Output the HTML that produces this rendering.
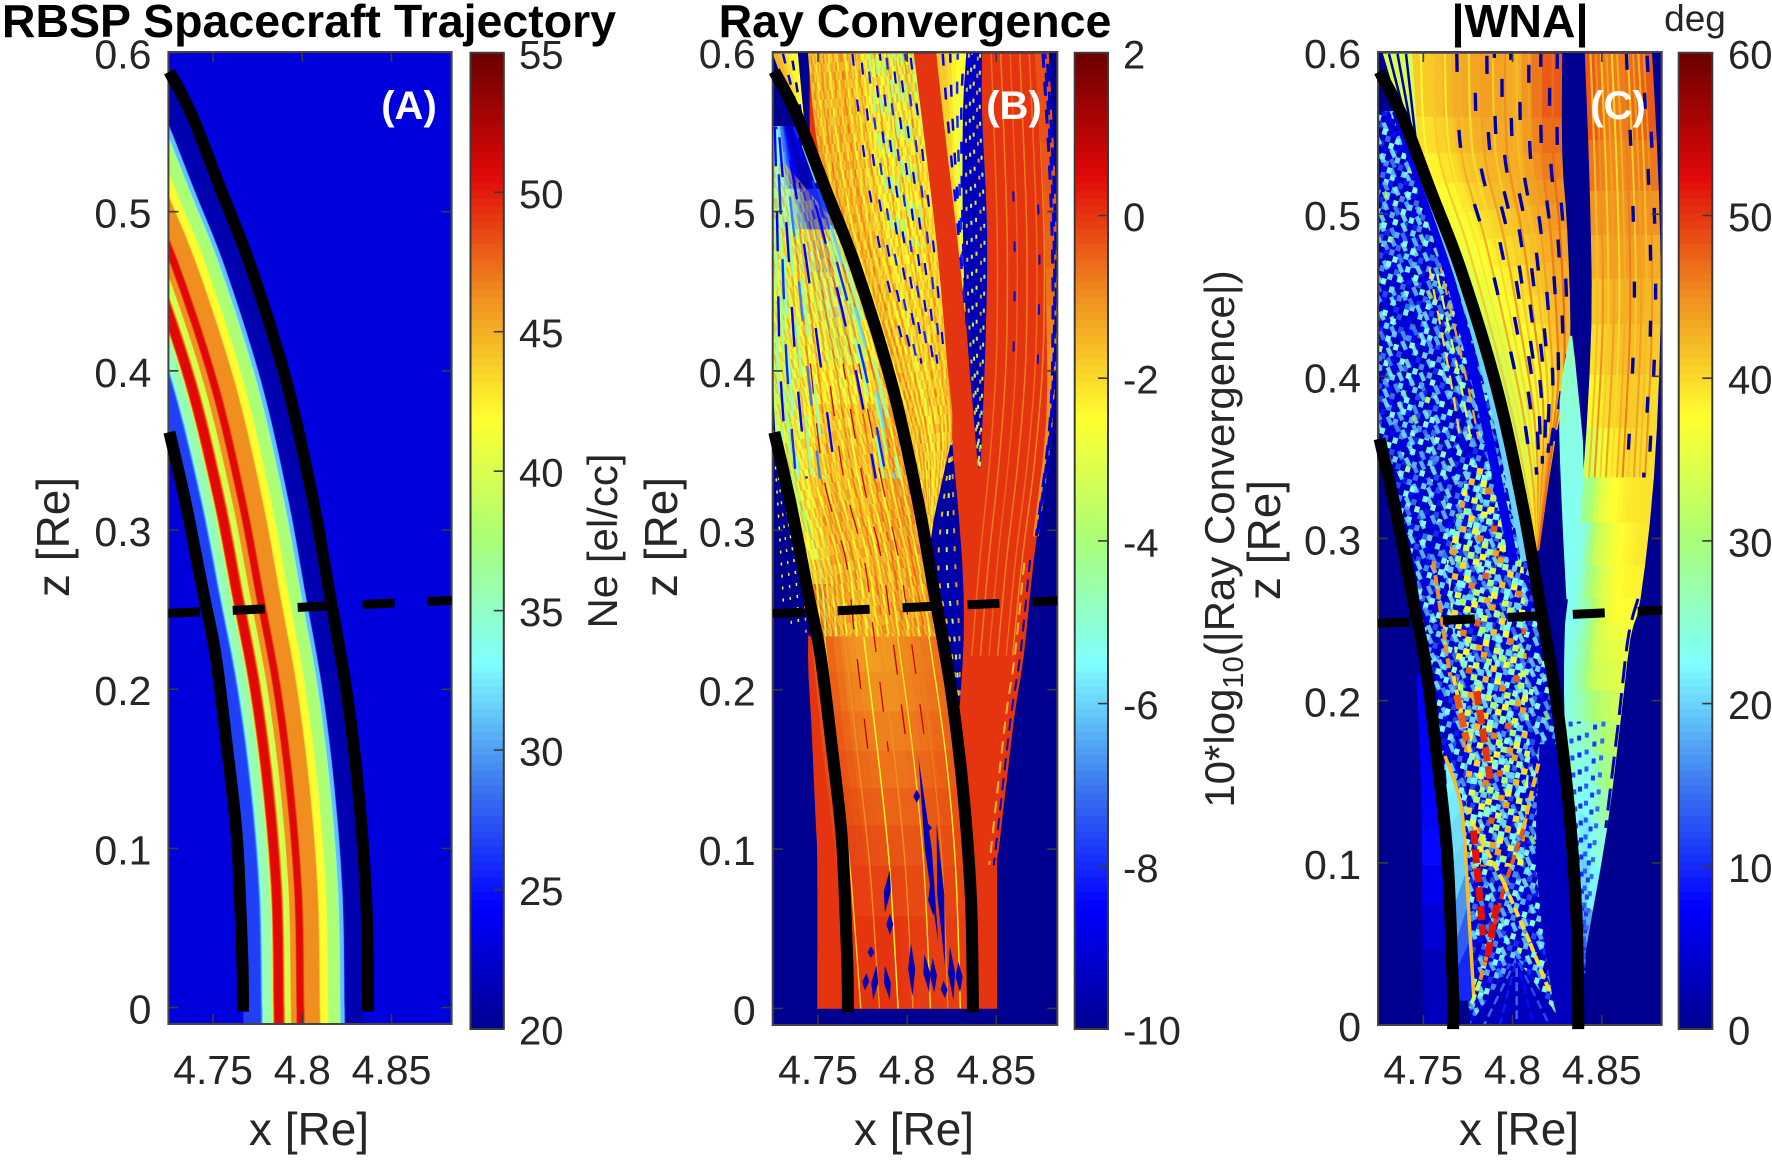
<!DOCTYPE html>
<html lang="en">
<head>
<meta charset="utf-8">
<title>RBSP Spacecraft Trajectory, Ray Convergence and WNA</title>
<style>
html,body{margin:0;padding:0;background:#fff;width:1772px;height:1161px;overflow:hidden}
svg{display:block;font-family:"Liberation Sans",Arial,sans-serif}
.title{font-size:46.5px;font-weight:bold;fill:#000;text-anchor:middle}
.axlabel{font-size:46px;fill:#262626;text-anchor:middle}
.cblabel{font-size:42px;fill:#262626;text-anchor:middle}
.tick{font-size:41px;fill:#262626}
.cbtick{font-size:40px;fill:#262626}
.tag{font-size:40px;font-weight:bold;fill:#fff;text-anchor:middle}
</style>
</head>
<body>
<svg id="figure" xmlns="http://www.w3.org/2000/svg" width="1772" height="1161" viewBox="0 0 1772 1161">
  <defs id="defs"></defs>
  <g id="panelA"></g>
  <g id="panelB"></g>
  <g id="panelC"></g>
  <text class="title" x="309" y="37">RBSP Spacecraft Trajectory</text>
  <text class="title" x="915" y="37">Ray Convergence</text>
  <text class="title" x="1520" y="37">|WNA|</text>
  <text x="1695" y="31" font-size="37" fill="#262626" text-anchor="middle">deg</text>
  <text class="axlabel" x="309" y="1145">x [Re]</text>
  <text class="axlabel" x="914" y="1145">x [Re]</text>
  <text class="axlabel" x="1519" y="1145">x [Re]</text>
  <text class="axlabel" transform="translate(69 537) rotate(-90)">z [Re]</text>
  <text class="axlabel" transform="translate(677 537) rotate(-90)">z [Re]</text>
  <text class="axlabel" transform="translate(1280 540) rotate(-90)">z [Re]</text>
  <text class="cblabel" transform="translate(617 541) rotate(-90)">Ne [el/cc]</text>
  <text class="cblabel" transform="translate(1234 539) rotate(-90)">10*log<tspan font-size="29" dy="9">10</tspan><tspan dy="-9">(|Ray Convergence|)</tspan></text>
  <text class="tag" x="409" y="119">(A)</text>
  <text class="tag" x="1014" y="119">(B)</text>
  <text class="tag" x="1618" y="119">(C)</text>
</svg>
<script>
/* ---------- axis ticks ---------- */
const xTickValues = [4.75, 4.8, 4.85];
const xTickLabels = ['4.75', '4.8', '4.85'];
const zTickValues = [0, 0.1, 0.2, 0.3, 0.4, 0.5, 0.6];
const zTickLabels = ['0', '0.1', '0.2', '0.3', '0.4', '0.5', '0.6'];
const cbarATicks = [20, 25, 30, 35, 40, 45, 50, 55];
const cbarBTicks = [-10, -8, -6, -4, -2, 0, 2];
const cbarCTicks = [0, 10, 20, 30, 40, 50, 60];

/* ---------- spacecraft trajectories and field lines ---------- */
const outerX = [4.7255, 4.738, 4.7547, 4.7713, 4.7912, 4.8057, 4.8156, 4.8244, 4.8312, 4.8357, 4.8368, 4.8368];
const outerZ = [0.588, 0.5608, 0.5127, 0.4647, 0.3926, 0.3204, 0.258, 0.2014, 0.1386, 0.0707, 0.01, -0.0025];
const innerX = [4.7255, 4.7348, 4.7447, 4.7513, 4.7578, 4.7634, 4.7662, 4.7667, 4.7667];
const innerZ = [0.3615, 0.3157, 0.2592, 0.2221, 0.1637, 0.1059, 0.0362, 0.01, -0.0025];
const crossX = [4.7246, 4.8842];
const crossZ = [0.2477, 0.2558];

/* ---------- panel A: density profile across L-shell ---------- */
const neX0 = [4.766, 4.7672, 4.7765, 4.7775, 4.7785, 4.783, 4.7838, 4.7845, 4.789, 4.79, 4.7908, 4.793, 4.7938, 4.7965, 4.7972, 4.8005, 4.8015, 4.8095, 4.8103, 4.814, 4.8148, 4.8208, 4.8215, 4.8235, 4.8242, 4.833, 4.8345];
const neValues = [23, 26.7, 26.7, 31.3, 35.4, 36, 46, 50.6, 50.6, 46, 40, 39, 46, 46.5, 50.6, 50.6, 46.3, 46.3, 42, 42, 38, 37.5, 31.3, 31, 21, 21.5, 23];
const fieldZ = [-0.011, 0, 0.0707, 0.1386, 0.2014, 0.258, 0.3204, 0.3926, 0.4647, 0.5127, 0.5608, 0.5873, 0.62];
const fieldShift = [0, 0, -0.0011, -0.0056, -0.0124, -0.0212, -0.0311, -0.0456, -0.0655, -0.0821, -0.0988, -0.111, -0.125];

/* ---------- panel B: regions as [x, z] edges with cell values ---------- */
const bEnvLeft = [[4.7455,.599],[4.7455,.5126],[4.7455,.4646],[4.7455,.4046],[4.7455,.3445],[4.7455,.2814],[4.7446,.2214],[4.7464,.1805],[4.7489,.1181],[4.7498,.0917],[4.7498,0]];
const bEnvRight = [[4.8792,.599],[4.8829,.5126],[4.8839,.4646],[4.8829,.4046],[4.8782,.3445],[4.8708,.2814],[4.8652,.2214],[4.8596,.1805],[4.8511,.0989],[4.8502,.0917],[4.8502,0]];
const bEnvVals = [[0],[0],[0],[0],[0],[0],[0],[0],[0],[0]];
const bEnvStreakFrac = [.76,.8,.84,.88,.92,.95];
const bEnvStreakVal = [-.6,-.8,-.5,-.8,-.6,-.9];
const bEnvSpeckFrac = [.83,.93];
const bEnvSpeckVal = [-9,-9];
const bEnvEdgeFrac = [.985,.96];
const bEnvEdgeVal = [-9.5,-1.5];

const bFanLeft = [[4.7446,.599],[4.7493,.5462],[4.7605,.4838],[4.7848,.4046],[4.8016,.3445],[4.8119,.2814]];
const bFanRight = [[4.8035,.599],[4.8091,.5486],[4.8166,.4766],[4.8222,.4046],[4.825,.3565],[4.8147,.2814]];
const bFanVals = [[-1.5,-1.3,-1.9,-3,-3.5],[-1.2,-1.4,-2.1,-2.8,-2.3],[-1.4,-1.6,-2.1,-2.4,-2],[-1,-1.2,-1.6,-1.7,-1.2],[-1,-1,-1,-1,-1]];
const bFanStreakFrac = [.03,.07,.11,.15,.19,.23,.27,.31,.35,.39,.43,.47,.51,.55,.59,.63,.67,.71,.75,.79,.83,.87,.91,.95];
const bFanStreakVal = [-1,-2.2,-.8,-1.4,-2.4,-1,-2,-.7,-2.4,-1.2,-2.5,-1,-2.5,-3,-2.2,-1,-2.6,-2,-.9,-2.5,-1.6,-2.3,-1,-2];
const bFanDashFrac = [.42,.5,.56,.62,.68,.74,.8,.86,.92,.97];
const bFanDashVal = [-8.5,-8.5,-8,-8.5,-8.5,-8,-8.5,-8.5,-8,-8.5];
const bFanAquaFrac = [.58,.64,.7,.76,.82,.88];
const bFanAquaVal = [-4.2,-4.4,-4,-4.4,-4.2,-4];

const bGrainTile = [
  [-2.4,-1,null,-2,-.6,-2.6,null,-1.4,-3,-.8,-2.2,null,-1,-2.6,-1.6,null],
  [null,-2.6,-1.2,null,-2.4,-1,-3.2,-2,null,-2.5,-.6,-1.8,-2.7,null,-1.1,-2.3],
  [-1.2,null,-2.5,-.8,-1.8,null,-2.6,-.5,-2.2,-1.2,null,-2.8,-1.4,-2.2,null,-.9],
  [-2.6,-1.6,null,-2.4,-1,-2.8,-1.2,null,-2,-3.4,-1,null,-2.5,-.7,-2.4,-1.5],
  [null,-.7,-2.2,-1.4,null,-2.2,-.9,-2.7,-1.1,null,-2.4,-1.2,null,-2,-1,-2.7],
  [-1.8,-2.8,-.9,null,-2.6,-1.4,null,-2.1,-.7,-2.5,-1.6,-2.9,-.8,null,-2.6,-1]
];

const bWedgeYLeft = [[4.8166,.599],[4.8203,.5606],[4.8278,.4886],[4.8334,.4286]];
const bWedgeYRight = [[4.8334,.599],[4.8315,.5606],[4.8315,.4886],[4.8334,.4286]];
const bWedgeYVals = [[-1.8,-2.5],[-2,-3],[-2.2,-3]];
const bWedgeYDashFrac = [.2,.45,.7,.9];
const bWedgeYDashVal = [-8.5,-8.5,-8,-8.5];
const bWedgeDLeft = [[4.8334,.599],[4.8315,.5606],[4.8315,.4886],[4.8334,.4286],[4.8399,.3397]];
const bWedgeDRight = [[4.8418,.599],[4.8418,.5606],[4.8446,.4886],[4.8437,.4166],[4.8409,.3397]];
const bWedgeDVals = [[-9.2],[-9.4],[-9.5],[-9.6]];
const bWedgeDDashFrac = [.15,.35,.55,.75,.9];
const bWedgeDDashVal = [-1.5,-4,-2,-1,-4];

const bLeftLeft = [[4.7249,.5534],[4.7249,.4886],[4.7249,.4046],[4.7287,.3325],[4.7427,.2814],[4.7464,.2334],[4.753,.1613],[4.7605,.0893],[4.767,0]];
const bLeftRight = [[4.7398,.5534],[4.763,.4886],[4.788,.4046],[4.8033,.3325],[4.812,.2814],[4.8195,.2334],[4.829,.1613],[4.8345,.0893],[4.8368,0]];
const bLeftVals = [[-5,-6,-8,-9.5,-9.5,-9.5],[-3.6,-3,-3.4,-5,-5,-3.5],[-3.6,-2.8,-1.7,-1.8,-1.6,-1],[-4,-1,-1.2,-1.5,-1,-.8],[-.5,-1,-1.6,-1.2,-1,-.8],[-.3,-.8,-1,-1,-.8,-.6],[-.2,-.4,-.5,-.5,-.4,-.3],[0,0,0,-.1,-.1,-.1]];
const bLeftStreakFrac = [.03,.07,.11,.15,.19,.23,.27,.31,.35,.39,.43,.47,.51,.55,.59,.63,.67,.71,.75,.79,.83,.87,.91,.95];
const bLeftStreakVal = [-3.5,-2.5,-4,-2,-3.2,-1.5,-2.6,-1,-2.8,-.8,-2.5,-1.4,-2.4,-.6,-2.6,-1,-2.3,-.4,-2.5,-1.1,-2.2,-.5,-2.4,-.9];
const bLeftLowFrac = [.1,.25,.4,.52,.66,.8,.9];
const bLeftLowVal = [-1.8,-1,-2.4,-1,-2,-.8,-2.3];
const bLeftBlueFrac = [.06,.12,.2,.3,.42,.72,.8,.86];
const bLeftBlueVal = [-8.5,-8,-8.5,-7,-8.5,-8.5,-8,-6];
const bLeftAquaFrac = [.04,.09,.14,.24,.34,.78,.84,.9];
const bLeftAquaVal = [-4.5,-4.2,-5,-4.4,-4.6,-4.4,-4.2,-4.6];
const bLeftRedFrac = [.33,.48,.62,.76];
const bLeftRedVal = [1,.8,1,.8];
const bGrainFadeLeft = [[4.7249,.53]];
const bGrainFadeRight = [[4.7315,.53]];

const bCornerLeft = [[4.7249,.599],[4.7398,.5534]];
const bCornerRight = [[4.7385,.599],[4.7423,.5534]];
const bCornerVals = [[-1.5,-2,-2.5]];
const bCornerDashFrac = [.4,.75];
const bCornerDashVal = [-8.5,-9.5];

const bTriLeft = [[4.825,.3565],[4.8119,.2814],[4.8203,.2334],[4.8293,.1902]];
const bTriRight = [[4.825,.3565],[4.8306,.2814],[4.8315,.2334],[4.8293,.1902]];
const bTriVals = [[-9.8],[-9.6],[-9.8]];
const bTriDashFrac = [.3,.55,.8];
const bTriDashVal = [-1.5,-4,-1];

const bDotLeft = [[4.7249,.3625],[4.7249,.2814],[4.7259,.2454]];
const bDotRight = [[4.7249,.3625],[4.7427,.2814],[4.7464,.2334]];
const bDotVals = [[-10],[-10]];
const bDotFrac = [.25,.45,.65,.85];
const bDotVal = [-2.5,-2,-2.5,-1.5];

const bStripLeft = [[4.8717,.599],[4.8764,.5126],[4.8782,.4406],[4.8782,.3685],[4.8708,.2965]];
const bStripRight = [[4.8792,.599],[4.8832,.5126],[4.8842,.4406],[4.8815,.3685],[4.8736,.2965]];
const bStripVals = [[-.3],[-.5],[-1],[-1]];
const bStripDashFrac = [.6,.75,.9,.98];
const bStripDashVal = [-9.3,-9,-9.3,-9.5];

const bShardX1 = [4.7809,4.7903,4.803,4.8124,4.8152,4.8212,4.8259,4.8296,4.7763,4.7797,4.7903,4.7875,4.8147,4.8212,4.8175,4.8119,4.8054];
const bShardZ1 = [.0053,.0053,.0077,.01,.01,.0065,.0053,.0101,.0113,.0317,.0461,.06,.0581,.0269,.0413,.1157,.1289];
const bShardX2 = [4.7828,4.7875,4.8021,4.8096,4.8143,4.8203,4.824,4.8287,4.7772,4.7797,4.7903,4.7903,4.8128,4.8165,4.8063,4.8119,4.8054];
const bShardZ2 = [.0269,.0269,.0413,.0341,.0317,.0173,.0389,.0293,.0221,.0389,.0593,.0869,.0773,.1157,.1577,.1109,.1373];

/* ---------- panel C: regions as [x, z] edges with cell values ---------- */
const cFanLeft = [[4.7435,.5988],[4.7472,.5376],[4.765,.4812],[4.7799,.4318],[4.7949,.3729],[4.8061,.3235],[4.8136,.2929]];
const cFanRight = [[4.8276,.5988],[4.8276,.5376],[4.8304,.4906],[4.8322,.4318],[4.8304,.3965],[4.8238,.3612],[4.8145,.2929]];
const cFanVals = [[41,43,44,43,48],[37,40,42,43,45],[35,37,39,41,43],[32,35,37,38,42],[32,34,36,38,40],[32,34,35,36,36]];
const cFanStreakFrac = [.06,.14,.22,.3,.38,.46,.54,.62,.7,.78,.86,.94];
const cFanStreakVal = [38,41,39,43,40,44,41,45,42,44,46,47];
const cFanDashFrac = [.3,.42,.5,.55,.6,.66,.72,.78,.86,.92,.97];
const cFanDashVal = [1,2,1,1,2,1,1,2,1,1,2];

const cCornerLeft = [[4.7276,.5988],[4.7444,.5376]];
const cCornerRight = [[4.7435,.5988],[4.7472,.5376]];
const cCornerVals = [[34]];
const cCornerFrac = [.2,.5,.8];
const cCornerVal = [1,2,1];

const cAquaLeft = [[4.8322,.4247],[4.8266,.3847],[4.8276,.3259],[4.8304,.2628]];
const cAquaRight = [[4.8332,.4247],[4.836,.3965],[4.8397,.3376],[4.8322,.2628]];
const cAquaVals = [[26],[24],[23]];

const cRightLeft = [[4.8407,.5988],[4.8435,.5141],[4.8444,.4318],[4.8397,.3376],[4.8313,.2628],[4.8294,.2388],[4.8294,.1871],[4.8332,.1329],[4.8388,.0506],[4.8397,.0318]];
const cRightRight = [[4.878,.5988],[4.8818,.5141],[4.8827,.4318],[4.879,.3376],[4.8715,.2628],[4.8659,.2388],[4.8603,.1871],[4.8528,.1212],[4.8416,.0506],[4.8397,.0318]];
const cRightVals = [[48,46,46,47,48],[43,44,44,44,43],[38,40,41,41,40],[24,33,36,38,39],[23,26,34,37,37],[24,28,33,34,35],[25,24,24,28,30],[22,20,20,22,22],[12,10,10,10,10]];
const cRightStreakFrac = [.08,.16,.24,.32,.4,.48,.56,.64,.72,.8,.88];
const cRightStreakVal = [42,45,41,44,40,43,46,41,44,42,45];
const cRightDashFrac = [.62,.86,.93];
const cRightDashVal = [1,1,2];
const cRightDotFrac = [.1,.25,.4,.55,.7];
const cRightDotVal = [12,10,13,11,14];
const cRightEdgeFrac = [.97];
const cRightEdgeVal = [2];

const cNoiseLeft = [[4.7253,.5635],[4.7253,.4671],[4.7253,.3965],[4.7253,.3612],[4.7369,.3165],[4.7448,.2859],[4.7509,.2388],[4.7593,.1729],[4.7687,.0976],[4.7743,.0271],[4.7762,0]];
const cNoiseRight = [[4.7367,.5635],[4.7705,.4671],[4.7901,.3965],[4.7985,.3612],[4.8063,.3165],[4.8112,.2859],[4.8188,.2388],[4.8275,.1729],[4.834,.0976],[4.836,.0271],[4.8365,0]];
const cEdgeFrac = [.985,.93,.84];
const cEdgeVal = [9,20,6];
const cArcFrac = [.62,.7,.76];
const cArcVal = [40,34,44];

const cHotLeft = [[4.7753,.345],[4.7631,.2859],[4.7724,.1682],[4.7762,.0976]];
const cHotRight = [[4.7853,.345],[4.8061,.2859],[4.8098,.1682],[4.8061,.0976]];

const cSpeckleCool = [
  [4,8,3,14,6,22,4,3,9,16,3,6,20,8,3,12],
  [3,16,6,3,22,9,3,12,4,3,24,10,4,3,18,6],
  [9,3,24,8,3,5,18,6,3,24,8,3,7,22,4,3],
  [3,7,4,18,3,20,4,3,16,6,3,14,3,6,3,24],
  [12,3,5,3,10,3,8,24,3,4,20,3,26,3,9,3],
  [3,22,3,8,4,16,3,3,10,24,3,6,4,14,3,7],
  [6,3,14,3,22,3,6,18,3,5,3,22,3,3,24,4],
  [3,10,3,24,3,7,3,4,24,3,12,4,9,16,3,3],
  [20,3,7,4,12,3,24,3,6,3,8,3,20,3,5,14],
  [3,5,20,3,6,20,3,10,3,18,3,6,3,10,3,22],
  [8,3,4,16,3,3,12,3,30,3,7,24,3,4,12,3],
  [3,14,3,6,22,4,3,20,3,5,14,3,6,24,3,6]
];
const cSpeckleHot = [
  [6,30,4,38,10,3,44,8],
  [3,12,36,3,22,6,3,28],
  [40,3,8,26,3,34,12,3],
  [8,24,3,4,48,3,20,6],
  [3,36,10,3,14,30,3,42],
  [22,3,46,6,3,10,26,3],
  [4,16,3,32,8,3,38,12],
  [34,3,20,3,28,44,3,6]
];

const cSideLeft = [[4.7463,.2153],[4.7491,.1447],[4.7496,.0741],[4.75,0]];
const cSideRight = [[4.7525,.2153],[4.761,.1447],[4.7648,.0741],[4.7667,0]];
const cSideVals = [[7],[8],[3]];
const cFieldLeft = [[4.7622,.1659],[4.765,.1212],[4.7683,.0506],[4.7706,.0153]];
const cFieldRight = [[4.7622,.1659],[4.7715,.1329],[4.7752,.0741],[4.7784,.0153]];
const cFieldVals = [[22],[20],[10]];
const cDarkLeft = [[4.8154,.1729],[4.8136,.0976],[4.8229,.0153],[4.8285,0]];
const cDarkRight = [[4.8275,.1729],[4.834,.0976],[4.836,.0153],[4.8365,0]];
const cDarkVals = [[3],[3],[3]];
const cFunnelLeft = [[4.8023,.0412],[4.7762,0]];
const cFunnelRight = [[4.8023,.0412],[4.8285,0]];
const cFunnelVals = [[3]];
const cFunnelFrac = [.15,.32,.5,.68,.85];
const cFunnelVal = [14,9,14,8,12];

const cLineX1 = [4.8145,4.8061,4.7949,4.7874,4.7818,4.778,4.7949,4.8098,4.7556,4.7668];
const cLineZ1 = [.1612,.1212,.0835,.0506,.0271,.1235,.0882,.0506,.2859,.2153];
const cLineX2 = [4.8061,4.7949,4.7874,4.7818,4.7762,4.7949,4.8098,4.821,4.765,4.7762];
const cLineZ2 = [.1212,.0835,.0506,.0271,.0106,.0882,.0506,.02,.2153,.1682];
const cLineVal = [42,48,50,45,32,40,40,40,45,40];
const cBlobX1 = [4.7799,4.7687,4.7781,4.7911];
const cBlobZ1 = [.2059,.2035,.12,.0741];
const cBlobX2 = [4.7874,4.7743,4.7836,4.7855];
const cBlobZ2 = [.1518,.1753,.0553,.0388];
const cBlobVal = [50,48,52,52];

/* ---------- shared colour map (style) ---------- */
const mapPos = [0,.125,.25,.375,.5,.625,.75,.875,1];
const mapRGB = [[0,0,144],[0,0,255],[60,120,240],[128,255,255],[168,255,120],[255,255,48],[240,144,32],[224,8,8],[106,0,0]];

const SVGNS = 'http://www.w3.org/2000/svg';
function mk(parent, tag, attrs, name) {
  const el = document.createElementNS(SVGNS, tag);
  for (const k in attrs) el.setAttribute(k, attrs[k]);
  
  
  parent.appendChild(el);
  return el;
}
function scale(domain, range) {
  return v => range[0] + (v - domain[0]) * (range[1] - range[0]) / (domain[1] - domain[0]);
}
function colorOf(t) {
  t = Math.max(0, Math.min(1, t));
  let i = 0;
  while (i < mapPos.length - 2 && t > mapPos[i + 1]) i++;
  const f = (t - mapPos[i]) / (mapPos[i + 1] - mapPos[i]);
  const a = mapRGB[i], b = mapRGB[i + 1];
  return 'rgb(' + Math.round(a[0] + (b[0] - a[0]) * f) + ',' + Math.round(a[1] + (b[1] - a[1]) * f) + ',' + Math.round(a[2] + (b[2] - a[2]) * f) + ')';
}
function smooth(pts) {
  let d = 'M' + pts[0][0].toFixed(1) + ' ' + pts[0][1].toFixed(1);
  for (let i = 0; i < pts.length - 1; i++) {
    const p0 = pts[Math.max(0, i - 1)], p1 = pts[i], p2 = pts[i + 1], p3 = pts[Math.min(pts.length - 1, i + 2)];
    const c1x = p1[0] + (p2[0] - p0[0]) / 6, c1y = p1[1] + (p2[1] - p0[1]) / 6;
    const c2x = p2[0] - (p3[0] - p1[0]) / 6, c2y = p2[1] - (p3[1] - p1[1]) / 6;
    d += 'C' + c1x.toFixed(1) + ' ' + c1y.toFixed(1) + ' ' + c2x.toFixed(1) + ' ' + c2y.toFixed(1) + ' ' + p2[0].toFixed(1) + ' ' + p2[1].toFixed(1);
  }
  return d;
}
function makePanel(id, frame, xDomain, zDomain, bar, cbDomain, cbTicks, tickOffset) {
  const p = { id: id, root: document.getElementById('panel' + id), frame: frame, bar: bar, cbDomain: cbDomain, cbTicks: cbTicks, tickOffset: tickOffset };
  p.sx = scale(xDomain, [frame.l, frame.r]);
  p.sz = scale(zDomain, [frame.b, frame.t]);
  p.sc = scale(cbDomain, [bar.b, bar.t]);
  p.col = v => colorOf((v - cbDomain[0]) / (cbDomain[1] - cbDomain[0]));
  const defs = document.getElementById('defs');
  const cp = mk(defs, 'clipPath', { id: 'clip' + id }, 'plot-clip-' + id);
  mk(cp, 'rect', { x: frame.l, y: frame.t, width: frame.r - frame.l, height: frame.b - frame.t }, 'plot-clip-rect');
  p.img = mk(p.root, 'g', { 'clip-path': 'url(#clip' + id + ')' }, 'heatmap-' + id);
  return p;
}
const mix = (a, b, f) => [a[0] + (b[0] - a[0]) * f, a[1] + (b[1] - a[1]) * f];
function edgeAt(edge, r, s) {
  const p0 = edge[Math.max(0, r - 1)], p1 = edge[r], p2 = edge[r + 1], p3 = edge[Math.min(edge.length - 1, r + 2)];
  const f = k => .5 * (2 * p1[k] + (p2[k] - p0[k]) * s + (2 * p0[k] - 5 * p1[k] + 4 * p2[k] - p3[k]) * s * s + (3 * p1[k] - p0[k] - 3 * p2[k] + p3[k]) * s * s * s);
  return [f(0), f(1)];
}
function cellValue(vals, rf, cf) {
  const nr = vals.length, nc = vals[0].length;
  const R = Math.max(0, Math.min(nr - 1, rf - .5)), C = Math.max(0, Math.min(nc - 1, cf - .5));
  const r0 = Math.floor(R), r1 = Math.min(nr - 1, r0 + 1), c0 = Math.floor(C), c1 = Math.min(nc - 1, c0 + 1);
  const a = vals[r0][c0] + (vals[r0][c1] - vals[r0][c0]) * (C - c0);
  const b = vals[r1][c0] + (vals[r1][c1] - vals[r1][c0]) * (C - c0);
  return a + (b - a) * (R - r0);
}
function mesh(p, left, right, vals, name) {
  const g = mk(p.img, 'g', {}, name);
  const SR = 3, SC = 3;
  const nr = vals.length, nc = vals[0].length;
  for (let r = 0; r < nr * SR; r++) {
    const ra = Math.floor(r / SR), sa = (r % SR) / SR, sb = ((r % SR) + 1) / SR;
    const la = edgeAt(left, ra, sa), lb = edgeAt(left, ra, sb), ra_ = edgeAt(right, ra, sa), rb_ = edgeAt(right, ra, sb);
    for (let c = 0; c < nc * SC; c++) {
      const f0 = c / (nc * SC), f1 = (c + 1) / (nc * SC);
      const q = [mix(la, ra_, f0), mix(la, ra_, f1), mix(lb, rb_, f1), mix(lb, rb_, f0)];
      const pts = q.map(a => p.sx(a[0]).toFixed(1) + ',' + p.sz(a[1]).toFixed(1)).join(' ');
      const col = p.col(cellValue(vals, (r + .5) / SR, (c + .5) / SC));
      mk(g, 'polygon', { points: pts, fill: col, stroke: col, 'stroke-width': 0.8 }, name + '-cell');
    }
  }
}
function outline(p, left, right, fill, name, opacity) {
  const pts = left.concat(right.slice().reverse()).map(a => p.sx(a[0]).toFixed(1) + ',' + p.sz(a[1]).toFixed(1)).join(' ');
  mk(p.img, 'polygon', { points: pts, fill: fill, 'fill-opacity': opacity === undefined ? 1 : opacity }, name);
}
function streaks(p, left, right, fracs, vals, from, to, width, dash, name) {
  const g = mk(p.img, 'g', { fill: 'none', 'stroke-width': width, 'stroke-dasharray': dash || 'none' }, name);
  fracs.forEach((f, i) => {
    const pts = [];
    for (let r = from; r <= to; r++) {
      const a = mix(left[r], right[r], f);
      pts.push([p.sx(a[0]), p.sz(a[1])]);
    }
    mk(g, 'path', { d: smooth(pts), stroke: p.col(vals[i]), 'stroke-dashoffset': (i * 37) % 97 }, name + '-line');
  });
}
function segments(p, x1, z1, x2, z2, vals, width, dash, name) {
  const g = mk(p.img, 'g', { 'stroke-width': width, 'stroke-dasharray': dash || 'none' }, name);
  x1.forEach((x, i) => {
    mk(g, 'line', { x1: p.sx(x), y1: p.sz(z1[i]), x2: p.sx(x2[i]), y2: p.sz(z2[i]), stroke: p.col(vals[i]) }, name + '-segment');
  });
}
function shards(p, x1, z1, x2, z2, v, halfWidth, name) {
  const g = mk(p.img, 'g', { fill: p.col(v) }, name);
  x1.forEach((x, i) => {
    const ax = p.sx(x), ay = p.sz(z1[i]), bx = p.sx(x2[i]), by = p.sz(z2[i]);
    const mx = (ax + bx) / 2, my = (ay + by) / 2;
    mk(g, 'polygon', { points: [ax + ',' + ay, (mx - halfWidth) + ',' + my, bx + ',' + by, (mx + halfWidth) + ',' + my].join(' ') }, name + '-shape');
  });
}
function speckle(tileId, matrix, p, cw, ch, rot, skipBelow) {
  const defs = document.getElementById('defs');
  const pat = mk(defs, 'pattern', { id: tileId, patternUnits: 'userSpaceOnUse', width: matrix[0].length * cw, height: matrix.length * ch, patternTransform: 'rotate(' + rot + ')' }, tileId);
  matrix.forEach((row, r) => row.forEach((v, c) => {
    if (v === null) return;
    if (skipBelow !== undefined && v < skipBelow) return;
    mk(pat, 'rect', { x: c * cw, y: r * ch, width: cw + .3, height: ch + .3, fill: p.col(v) }, tileId + '-cell');
  }));
}
function finishPanel(p) {
  const f = p.frame, b = p.bar, root = p.root;
  const axes = mk(root, 'g', { stroke: '#3a3a3a', 'stroke-width': 1.6, fill: 'none' }, 'axes-' + p.id);
  xTickValues.forEach((t, i) => {
    mk(axes, 'line', { x1: p.sx(t), x2: p.sx(t), y1: f.b, y2: f.b - 10 }, 'x-tick');
    mk(axes, 'line', { x1: p.sx(t), x2: p.sx(t), y1: f.t, y2: f.t + 10 }, 'x-tick-top');
    const el = mk(root, 'text', { class: 'tick', x: p.sx(t), y: 1084, 'text-anchor': 'middle' }, 'x-tick-label');
    el.textContent = xTickLabels[i];
  });
  zTickValues.forEach((t, i) => {
    mk(axes, 'line', { x1: f.l, x2: f.l + 10, y1: p.sz(t), y2: p.sz(t) }, 'y-tick');
    mk(axes, 'line', { x1: f.r, x2: f.r - 10, y1: p.sz(t), y2: p.sz(t) }, 'y-tick-right');
    const el = mk(root, 'text', { class: 'tick', x: f.l - 17, y: p.sz(t) + 16, 'text-anchor': 'end' }, 'y-tick-label');
    el.textContent = zTickLabels[i];
  });
  mk(axes, 'rect', { x: f.l, y: f.t, width: f.r - f.l, height: f.b - f.t, 'stroke-width': 2, stroke: '#444' }, 'plot-frame');
  const dg = mk(root, 'g', { 'clip-path': 'url(#clip' + p.id + ')' }, 'spacecraft-crossing-clip');
  mk(dg, 'line', { x1: p.sx(crossX[0]), y1: p.sz(crossZ[0]), x2: p.sx(crossX[1]), y2: p.sz(crossZ[1]), stroke: '#000', 'stroke-width': 9, 'stroke-dasharray': '32 33' }, 'spacecraft-crossing-line');
  const tr = (xs, zs) => xs.map((x, i) => [p.sx(x), p.sz(zs[i])]);
  mk(root, 'path', { d: smooth(tr(outerX, outerZ)), fill: 'none', stroke: '#000', 'stroke-width': 12 }, 'outer-trajectory');
  mk(root, 'path', { d: smooth(tr(innerX, innerZ)), fill: 'none', stroke: '#000', 'stroke-width': 12 }, 'inner-trajectory');
  const cb = mk(root, 'g', {}, 'colorbar-' + p.id);
  const steps = 128;
  for (let i = 0; i < steps; i++) {
    const v0 = p.cbDomain[0] + (p.cbDomain[1] - p.cbDomain[0]) * i / steps;
    const v1 = p.cbDomain[0] + (p.cbDomain[1] - p.cbDomain[0]) * (i + 1) / steps;
    mk(cb, 'rect', { x: b.l, width: b.r - b.l, y: p.sc(v1), height: p.sc(v0) - p.sc(v1) + .6, fill: p.col((v0 + v1) / 2) }, 'colorbar-step');
  }
  mk(cb, 'rect', { x: b.l, y: b.t, width: b.r - b.l, height: b.b - b.t, fill: 'none', stroke: '#3a3a3a', 'stroke-width': 2 }, 'colorbar-frame');
  p.cbTicks.forEach(t => {
    mk(cb, 'line', { x1: b.r - 10, x2: b.r, y1: p.sc(t), y2: p.sc(t), stroke: '#3a3a3a', 'stroke-width': 1.6 }, 'colorbar-tick');
    const el = mk(cb, 'text', { class: 'cbtick', x: p.tickOffset, y: p.sc(t) + 15.5 }, 'colorbar-tick-label');
    el.textContent = String(t);
  });
}

/* ================= Panel A ================= */
const pA = makePanel('A', { l: 168.4, r: 451.6, t: 52, b: 1024 }, [4.72494, 4.88369], [-0.0103, 0.6003], { l: 470.5, r: 503.8, t: 52.8, b: 1029 }, [20, 55], cbarATicks, 519);
function fieldLine(x0) {
  const f = 1 + 1.7 * (4.8368 - x0);
  return fieldZ.map((z, i) => [pA.sx(x0 + fieldShift[i] * f), pA.sz(z)]);
}
function bandPath(x0) {
  const line = fieldLine(x0);
  const last = line[line.length - 1], first = line[0];
  return smooth(line) + 'L470 ' + last[1].toFixed(1) + 'L470 ' + first[1].toFixed(1) + 'Z';
}
mk(pA.img, 'rect', { x: 168, y: 52, width: 284, height: 972, fill: pA.col(neValues[0]) }, 'density-background');
for (let i = 0; i < neX0.length - 1; i++) {
  const dv = Math.abs(neValues[i + 1] - neValues[i]);
  const n = dv < 1 ? 1 : 3;
  for (let k = 0; k < n; k++) {
    const x0 = neX0[i] + (neX0[i + 1] - neX0[i]) * k / n;
    const v = neValues[i] + (neValues[i + 1] - neValues[i]) * (k + .5) / n;
    mk(pA.img, 'path', { d: bandPath(x0), fill: pA.col(v) }, 'density-band');
  }
}
mk(pA.img, 'path', { d: bandPath(neX0[neX0.length - 1]), fill: pA.col(neValues[neValues.length - 1]) }, 'density-band');
finishPanel(pA);

/* ================= Panel B ================= */
const pB = makePanel('B', { l: 772.7, r: 1057.3, t: 52, b: 1025 }, [4.7246, 4.8842], [-0.0104, 0.6001], { l: 1074.7, r: 1108, t: 52.8, b: 1029 }, [-10, 2], cbarBTicks, 1123);
speckle('b-grain-fan', bGrainTile, pB, 2, 9, -5);
speckle('b-grain-left', bGrainTile, pB, 2, 10, -14);
mk(pB.img, 'rect', { x: 772, y: 52, width: 286, height: 973, fill: pB.col(-10) }, 'convergence-background');
mesh(pB, bEnvLeft, bEnvRight, bEnvVals, 'convergence-envelope');
streaks(pB, bEnvLeft, bEnvRight, bEnvStreakFrac, bEnvStreakVal, 0, 6, 1.5, '', 'envelope-streak');
streaks(pB, bEnvLeft, bEnvRight, bEnvSpeckFrac, bEnvSpeckVal, 1, 3, 2, '10 40', 'envelope-speck');
streaks(pB, bEnvLeft, bEnvRight, bEnvEdgeFrac, bEnvEdgeVal, 5, 9, 2, '12 8', 'envelope-edge');
mesh(pB, bFanLeft, bFanRight, bFanVals, 'upper-fan');
streaks(pB, bFanLeft, bFanRight, bFanStreakFrac, bFanStreakVal, 0, 5, 2, '', 'upper-fan-streak');
outline(pB, bFanLeft, bFanRight, 'url(#b-grain-fan)', 'upper-fan-grain', .45);
streaks(pB, bFanLeft, bFanRight, bFanAquaFrac, bFanAquaVal, 0, 2, 2.5, '18 22', 'upper-fan-aqua');
streaks(pB, bFanLeft, bFanRight, bFanDashFrac, bFanDashVal, 0, 3, 2.2, '12 34', 'upper-fan-blue');
mesh(pB, bWedgeYLeft, bWedgeYRight, bWedgeYVals, 'wedge-yellow');
streaks(pB, bWedgeYLeft, bWedgeYRight, bWedgeYDashFrac, bWedgeYDashVal, 0, 3, 2.5, '12 22', 'wedge-yellow-blue');
mesh(pB, bWedgeDLeft, bWedgeDRight, bWedgeDVals, 'wedge-dark');
streaks(pB, bWedgeDLeft, bWedgeDRight, bWedgeDDashFrac, bWedgeDDashVal, 0, 4, 2, '4 13', 'wedge-dark-specks');
mesh(pB, bCornerLeft, bCornerRight, bCornerVals, 'corner-fan');
streaks(pB, bCornerLeft, bCornerRight, bCornerDashFrac, bCornerDashVal, 0, 1, 2.5, '10 12', 'corner-fan-blue');
mesh(pB, bLeftLeft, bLeftRight, bLeftVals, 'between-trajectories');
streaks(pB, bLeftLeft, bLeftRight, bLeftStreakFrac, bLeftStreakVal, 1, 5, 2, '', 'between-streak');
outline(pB, bGrainFadeLeft.concat(bLeftLeft.slice(1, 6)), bGrainFadeRight.concat(bLeftRight.slice(1, 6)), 'url(#b-grain-left)', 'between-grain', .45);
streaks(pB, bLeftLeft, bLeftRight, bLeftLowFrac, bLeftLowVal, 5, 8, 1.4, '', 'between-low-streak');
streaks(pB, bLeftLeft, bLeftRight, bLeftAquaFrac, bLeftAquaVal, 1, 3, 2.6, '60 40', 'between-aqua');
streaks(pB, bLeftLeft, bLeftRight, bLeftBlueFrac, bLeftBlueVal, 0, 3, 2.4, '40 45', 'between-blue');
streaks(pB, bLeftLeft, bLeftRight, bLeftRedFrac, bLeftRedVal, 2, 6, 1.3, '30 30', 'between-red');
mesh(pB, bTriLeft, bTriRight, bTriVals, 'dark-triangle');
streaks(pB, bTriLeft, bTriRight, bTriDashFrac, bTriDashVal, 0, 3, 2, '5 13', 'dark-triangle-specks');
mesh(pB, bDotLeft, bDotRight, bDotVals, 'dotted-corner');
streaks(pB, bDotLeft, bDotRight, bDotFrac, bDotVal, 0, 2, 1.5, '3 9', 'dotted-corner-line');
mesh(pB, bStripLeft, bStripRight, bStripVals, 'right-strip');
streaks(pB, bStripLeft, bStripRight, bStripDashFrac, bStripDashVal, 0, 4, 3, '14 14', 'right-strip-blue');
shards(pB, bShardX1, bShardZ1, bShardX2, bShardZ2, -9.5, 3.5, 'low-shard');
finishPanel(pB);

/* ================= Panel C ================= */
const pC = makePanel('C', { l: 1378, r: 1661.7, t: 52, b: 1025 }, [4.7246, 4.8836], [0, 0.6], { l: 1678.7, r: 1712.3, t: 52.8, b: 1029 }, [0, 60], cbarCTicks, 1728);
speckle('cool-tile', cSpeckleCool, pC, 5, 6, 16);
speckle('cool-tile-b', cSpeckleCool, pC, 4, 9, -24, 16);
speckle('hot-tile', cSpeckleHot, pC, 6, 6, 10, 20);
mk(pC.img, 'rect', { x: 1378, y: 52, width: 284, height: 973, fill: pC.col(0) }, 'wna-background');
mesh(pC, cFanLeft, cFanRight, cFanVals, 'wna-upper-fan');
streaks(pC, cFanLeft, cFanRight, cFanStreakFrac, cFanStreakVal, 0, 6, 2.2, '', 'wna-fan-streak');
streaks(pC, cFanLeft, cFanRight, cFanDashFrac, cFanDashVal, 0, 5, 3.4, '18 58', 'wna-fan-gap');
mesh(pC, cCornerLeft, cCornerRight, cCornerVals, 'wna-corner');
streaks(pC, cCornerLeft, cCornerRight, cCornerFrac, cCornerVal, 0, 1, 2.5, '', 'wna-corner-stripe');
mesh(pC, cRightLeft, cRightRight, cRightVals, 'wna-right-fan');
streaks(pC, cRightLeft, cRightRight, cRightStreakFrac, cRightStreakVal, 0, 3, 2, '', 'wna-right-streak');
streaks(pC, cRightLeft, cRightRight, cRightDashFrac, cRightDashVal, 0, 3, 3.4, '16 60', 'wna-right-gap');
streaks(pC, cRightLeft, cRightRight, cRightDotFrac, cRightDotVal, 6, 9, 4, '5 12', 'wna-right-dots');
streaks(pC, cRightLeft, cRightRight, cRightEdgeFrac, cRightEdgeVal, 4, 7, 3, '22 10', 'wna-right-edge');
mesh(pC, cAquaLeft, cAquaRight, cAquaVals, 'wna-aqua-wedge');
outline(pC, cNoiseLeft, cNoiseRight, 'url(#cool-tile)', 'wna-speckle-region');
outline(pC, cNoiseLeft, cNoiseRight, 'url(#cool-tile-b)', 'wna-speckle-overlay', .8);
outline(pC, cHotLeft, cHotRight, 'url(#hot-tile)', 'wna-hot-speckle-region');
streaks(pC, cNoiseLeft, cNoiseRight, [cEdgeFrac[0], cEdgeFrac[2]], [cEdgeVal[0], cEdgeVal[2]], 0, 5, 9, '', 'wna-edge-band');
streaks(pC, cNoiseLeft, cNoiseRight, [cEdgeFrac[1]], [cEdgeVal[1]], 0, 5, 6, '', 'wna-edge-aqua');
streaks(pC, cNoiseLeft, cNoiseRight, cArcFrac, cArcVal, 1, 3, 2.2, '14 8', 'wna-arc');
mesh(pC, cSideLeft, cSideRight, cSideVals, 'wna-left-side');
mesh(pC, cFieldLeft, cFieldRight, cFieldVals, 'wna-aqua-field');
streaks(pC, cFieldLeft, cFieldRight, [1], [42], 0, 3, 3.5, '', 'wna-field-edge');
mesh(pC, cDarkLeft, cDarkRight, cDarkVals, 'wna-right-dark');
mesh(pC, cFunnelLeft, cFunnelRight, cFunnelVals, 'wna-funnel');
streaks(pC, cFunnelLeft, cFunnelRight, cFunnelFrac, cFunnelVal, 0, 1, 2.5, '9 5', 'wna-funnel-line');
segments(pC, cLineX1, cLineZ1, cLineX2, cLineZ2, cLineVal, 4, '10 4', 'wna-hot-line');
segments(pC, cBlobX1, cBlobZ1, cBlobX2, cBlobZ2, cBlobVal, 7, '14 5', 'wna-hot-blob');
finishPanel(pC);
</script>
</body>
</html>
